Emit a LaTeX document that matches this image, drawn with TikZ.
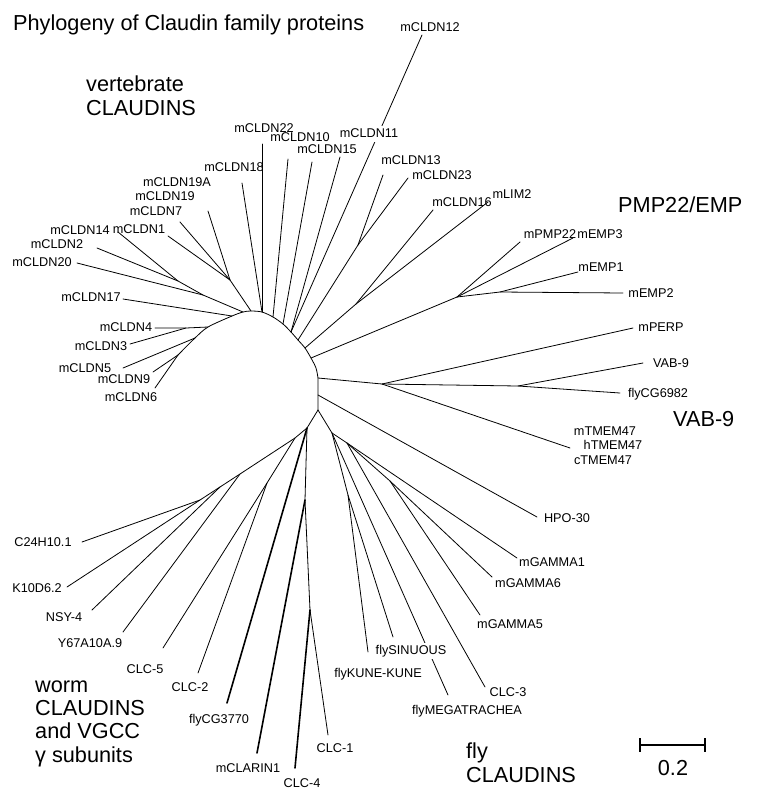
\documentclass[tikz,border=0pt]{standalone}
\usepackage{fontspec}
\setmainfont{Liberation Sans}
\begin{document}
\begin{tikzpicture}[x=1pt,y=-1pt,
  br/.style={line width=0.8pt, line cap=round, line join=round},
  thk/.style={line width=1.6pt, line cap=round},
  lab/.style={font=\fontsize{12.7}{14}\selectfont, inner sep=0pt, text height=9.1pt, text depth=0pt},
  cover/.style={lab, fill=white, inner sep=1.5pt, text depth=3pt},
  big/.style={font=\fontsize{21.7}{24}\selectfont, inner sep=0pt, anchor=base west},
  scl/.style={line width=2.6pt}]
\useasboundingbox (0,0) rectangle (757,796);

% ---------- backbone ----------
\coordinate (a0) at (178,355);
\coordinate (a1) at (195,338);
\coordinate (a2) at (208,327);
\coordinate (a3) at (232,316);
\coordinate (a4) at (243,312);
\coordinate (a5) at (251,311);
\coordinate (a6) at (262,312);
\coordinate (a7) at (273,317);
\coordinate (a8) at (283,324);
\coordinate (a9) at (291,332);
\coordinate (a10) at (298,340);
\coordinate (a11) at (305,348);
\coordinate (a12) at (311,358);
\coordinate (a13) at (316,368);
\coordinate (a14) at (318,378);
\coordinate (a15) at (318,395);
\coordinate (a16) at (318,410);
\draw[br] plot[smooth] coordinates {(a0) (a1) (a2) (a3) (a4) (a5) (a6) (a7) (a8) (a9) (a10) (a11) (a12) (a13) (a14)} -- (a15) -- (a16);

% ---------- vertebrate claudins ----------
\coordinate (t9) at (153,372);
\coordinate (t6) at (155,388);
\coordinate (t5) at (123,368);
\coordinate (n43) at (186,328);
\coordinate (t4) at (155,328);
\coordinate (t3) at (130,344);
\coordinate (t17) at (123,299);
\coordinate (J1) at (203,295);
\coordinate (J2) at (178,281);
\coordinate (t20) at (77,263);
\coordinate (t14) at (118,232);
\coordinate (t2) at (97,248);
\coordinate (G19) at (230,280);
\coordinate (t1) at (168,236);
\coordinate (t7) at (180,222);
\coordinate (t19) at (208,211);
\coordinate (t22) at (262,144);
\coordinate (t18) at (242,183);
\coordinate (t10) at (288,159);
\coordinate (t15) at (312,162);
\coordinate (t11) at (340,157);
\coordinate (t12) at (422,35);
\coordinate (n1323) at (358,245);
\coordinate (t13) at (383,175);
\coordinate (t23) at (408,178);
\coordinate (n16) at (356,304);
\coordinate (t16) at (433,210);
\coordinate (tL) at (488,202);

\draw[br] (a0) -- (t9);
\draw[br] (a0) -- (t6);
\draw[br] (a1) -- (t5);
\draw[br] (a2) -- (n43) -- (t4);
\draw[br] (n43) -- (t3);
\draw[br] (a3) -- (t17);
\draw[br] (a4) -- (J1) -- (t20);
\draw[br] (J1) -- (J2) -- (t14);
\draw[br] (J2) -- (t2);
\draw[br] (a5) -- (G19) -- (t1);
\draw[br] (G19) -- (t7);
\draw[br] (G19) -- (t19);
\draw[br] (a6) -- (t22);
\draw[br] (a6) -- (t18);
\draw[br] (a7) -- (t10);
\draw[br] (a8) -- (t15);
\draw[br] (a9) -- (t11);
\draw[br] (a9) -- (t12);
\draw[br] (a10) -- (n1323) -- (t13);
\draw[br] (n1323) -- (t23);
\draw[br] (a11) -- (n16) -- (t16);
\draw[br] (n16) -- (tL);

% ---------- PMP22 / EMP ----------
\coordinate (P1) at (457,297);
\coordinate (P2) at (500,292);
\coordinate (tPMP) at (520,242);
\coordinate (tE3) at (573,238);
\coordinate (tE1) at (578,272);
\coordinate (tE2) at (623,293);
\draw[br] (a12) -- (P1) -- (tPMP);
\draw[br] (P1) -- (tE3);
\draw[br] (P1) -- (P2) -- (tE1);
\draw[br] (P2) -- (tE2);

% ---------- VAB-9 ----------
\coordinate (V1) at (382,384);
\coordinate (V2) at (518,386);
\coordinate (tPERP) at (633,328);
\coordinate (tVAB) at (643,363);
\coordinate (tCG) at (620,393);
\coordinate (tTM) at (570,448);
\draw[br] (a14) -- (V1) -- (tPERP);
\draw[br] (V1) -- (V2) -- (tVAB);
\draw[br] (V2) -- (tCG);
\draw[br] (V1) -- (tTM);

% ---------- HPO-30 ----------
\coordinate (tHPO) at (537,517);
\draw[br] (a15) -- (tHPO);

% ---------- fly claudins / gammas ----------
\coordinate (R0) at (332,433);
\coordinate (R1) at (347,443);
\coordinate (R2) at (390,481);
\coordinate (F1) at (348,495);
\coordinate (tKUNE) at (368,652);
\coordinate (tSIN) at (393,637);
\coordinate (tMEGA) at (448,695);
\coordinate (tG1) at (517,558);
\coordinate (tG6) at (492,577);
\coordinate (tG5) at (480,615);
\coordinate (tC3) at (485,687);
\draw[br] (a16) -- (R0) -- (F1) -- (tKUNE);
\draw[br] (F1) -- (tSIN);
\draw[br] (R0) -- (tMEGA);
\draw[br] (R0) -- (R1) -- (tG1);
\draw[br] (R1) -- (R2) -- (tG6);
\draw[br] (R2) -- (tG5);
\draw[br] (R1) -- (tC3);

% ---------- worm claudins ----------
\coordinate (L0) at (307,428);
\coordinate (W1) at (295,438);
\coordinate (W2) at (267,483);
\coordinate (W3) at (240,474);
\coordinate (W4) at (220,487);
\coordinate (W5) at (200,500);
\coordinate (tC5) at (163,648);
\coordinate (tC2) at (198,673);
\coordinate (tY) at (123,632);
\coordinate (tN) at (92,610);
\coordinate (tC24) at (82,542);
\coordinate (tK) at (67,587);
\coordinate (T2) at (305,500);
\coordinate (T3) at (310,610);
\coordinate (tCG37) at (227,703);
\coordinate (tCLA) at (257,753);
\coordinate (tC4) at (295,768);
\coordinate (tC1) at (328,735);
\draw[br] (a16) -- (L0) -- (W1) -- (W2) -- (tC5);
\draw[br] (W2) -- (tC2);
\draw[br] (W1) -- (W3) -- (W4) -- (W5) -- (tK);
\draw[br] (W3) -- (tY);
\draw[br] (W4) -- (tN);
\draw[br] (W5) -- (tC24);
\draw[thk] (L0) -- (tCG37);
\draw[br] (L0) -- (T2);
\draw[thk] (T2) -- (tCLA);
\draw[br] (T2) -- (T3);
\draw[thk] (T3) -- (tC4);
\draw[br] (T3) -- (tC1);

% ---------- leaf labels ----------
\node[lab] (l20) at (42,262) {mCLDN20};
\node[lab] (l2) at (57,244) {mCLDN2};
\node[lab] (l14) at (80,230) {mCLDN14};
\node[lab] (l1) at (139,229) {mCLDN1};
\node[lab] (l7) at (156,211) {mCLDN7};
\node[lab] (l19) at (165,196) {mCLDN19};
\node[lab] (l19A) at (177,182) {mCLDN19A};
\node[lab] (l18) at (234,167) {mCLDN18};
\node[lab] (l22) at (264,128) {mCLDN22};
\node[lab] (l10) at (300,137) {mCLDN10};
\node[lab] (l15) at (327,149) {mCLDN15};
\node[cover] (l11) at (369,134) {mCLDN11};
\node[lab] (l12) at (430,27) {mCLDN12};
\node[lab] (l13) at (411,160) {mCLDN13};
\node[lab] (l23) at (442,175) {mCLDN23};
\node[lab] (l16) at (462,202) {mCLDN16};
\node[lab] (lLIM) at (512,194) {mLIM2};
\node[lab] (lPMP) at (550,234) {mPMP22};
\node[lab] (lE3) at (600,234) {mEMP3};
\node[lab] (lE1) at (601,267) {mEMP1};
\node[lab] (lE2) at (651,293) {mEMP2};
\node[lab] (lPERP) at (661,327) {mPERP};
\node[lab] (lVAB) at (671,363) {VAB-9};
\node[lab] (lCG) at (658,393) {flyCG6982};
\node[lab] (lmTM) at (605,431) {mTMEM47};
\node[lab] (lhTM) at (613,445) {hTMEM47};
\node[lab] (lcTM) at (603,460) {cTMEM47};
\node[lab] (lHPO) at (567,518) {HPO-30};
\node[lab] (lG1) at (552,562) {mGAMMA1};
\node[lab] (lG6) at (528,583) {mGAMMA6};
\node[lab] (lG5) at (510,624) {mGAMMA5};
\node[lab] (lC3) at (508,692) {CLC-3};
\node[lab] (lMEGA) at (467,710) {flyMEGATRACHEA};
\node[cover] (lSIN) at (411,651) {flySINUOUS};
\node[lab] (lKUNE) at (378,673) {flyKUNE-KUNE};
\node[lab] (lC1) at (335,748) {CLC-1};
\node[lab] (lC4) at (302,783) {CLC-4};
\node[lab] (lCLA) at (248,768) {mCLARIN1};
\node[lab] (lCG37) at (219,719) {flyCG3770};
\node[lab] (lC2) at (190,687) {CLC-2};
\node[lab] (lC5) at (145,669) {CLC-5};
\node[lab] (lY) at (90,643) {Y67A10A.9};
\node[lab] (lN) at (64,617) {NSY-4};
\node[lab] (lK) at (37,588) {K10D6.2};
\node[lab] (lC24) at (43,542) {C24H10.1};
\node[lab] (l17) at (91,297) {mCLDN17};
\node[lab] (l4) at (126,327) {mCLDN4};
\node[lab] (l3) at (101,346) {mCLDN3};
\node[lab] (l5) at (85,368) {mCLDN5};
\node[lab] (l9) at (124,379) {mCLDN9};
\node[lab] (l6) at (131,397) {mCLDN6};

% ---------- group titles ----------
\node[big] (title) at (13,30) {Phylogeny of Claudin family proteins};
\node[big] (gv1) at (86,91) {vertebrate};
\node[big] (gv2) at (86,115) {CLAUDINS};
\node[big] (gp) at (618,212) {PMP22/EMP};
\node[big] (gvab) at (673,426) {VAB-9};
\node[big] (gw1) at (35,692) {worm};
\node[big] (gw2) at (35,715) {CLAUDINS};
\node[big] (gw3) at (35,738) {and VGCC};
\node[big] (gw4) at (35,762) {γ subunits};
\node[big] (gf1) at (466,758) {fly};
\node[big] (gf2) at (466,782) {CLAUDINS};

% ---------- scale bar ----------
\coordinate (s1) at (640,745);
\coordinate (s2) at (705,745);
\draw[scl] (s1) -- (s2);
\draw[scl] (s1) ++(0,-7) -- ++(0,14);
\draw[scl] (s2) ++(0,-7) -- ++(0,14);
\node[big, anchor=base] (sl) at (673,775) {0.2};
\end{tikzpicture}
\end{document}
